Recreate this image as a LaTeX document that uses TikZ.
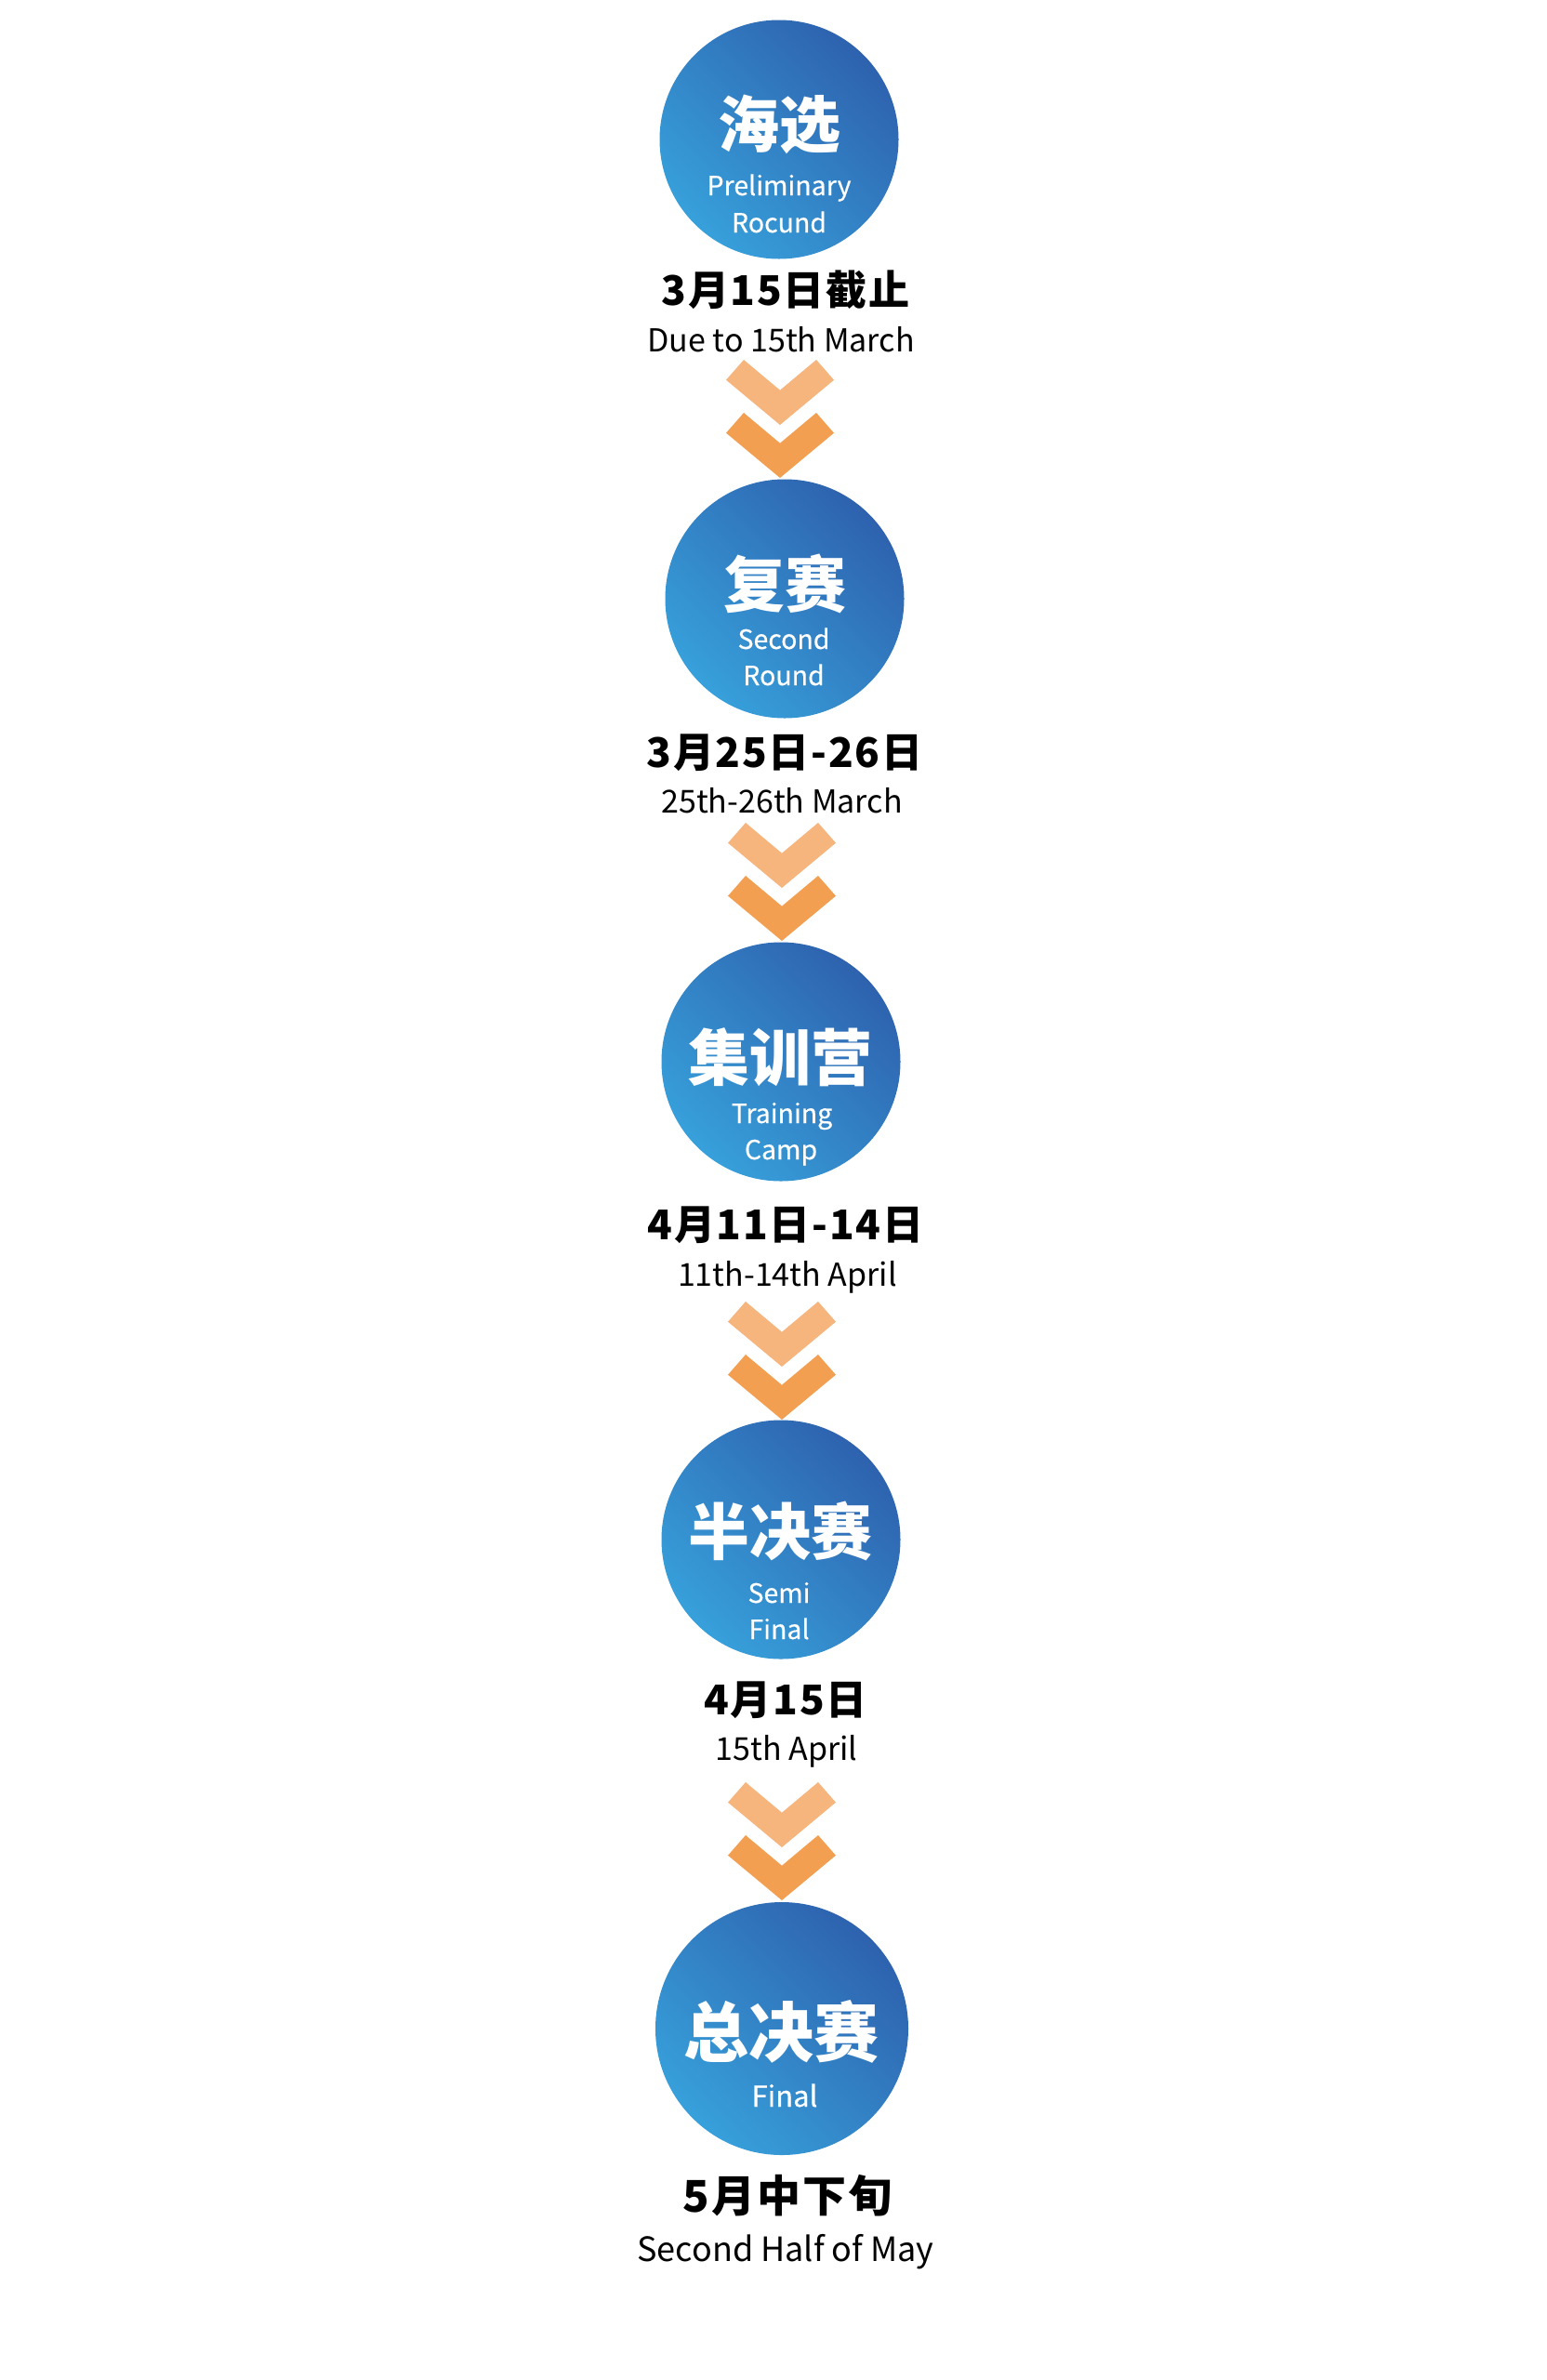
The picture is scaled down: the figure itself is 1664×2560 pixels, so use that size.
\documentclass[tikz,border=0pt]{standalone}
\usepackage{fontspec}
\setmainfont{Noto Sans CJK SC}
\newfontfamily\cjkmed{Noto Sans CJK SC}[FakeBold=0.4]
\newfontfamily\datefont{Noto Sans CJK SC}[LetterSpace=4]
\definecolor{blueD}{HTML}{2E62AE}
\definecolor{blueL}{HTML}{37A0DB}
\definecolor{chevL}{HTML}{F5B57D}
\definecolor{chevD}{HTML}{F39F52}
\tikzset{
  stage/.style={circle, minimum size=#1, inner sep=0pt, top color=blueD, bottom color=blueL, shading angle=-45},
  stage/.default=257pt,
  tit/.style={text=white, font=\fontsize{#1}{#1}\selectfont\bfseries, anchor=base, inner sep=0pt},
  tit/.default=66,
  sub/.style={text=white, font=\cjkmed\fontsize{#1}{#1}\selectfont, anchor=base, inner sep=0pt},
  sub/.default=28.5,
  dat/.style={text=black, font=\datefont\fontsize{#1}{#1}\selectfont\bfseries, anchor=base, inner sep=0pt},
  dat/.default=44,
  eng/.style={text=black, font=\fontsize{#1}{#1}\selectfont, anchor=base, inner sep=0pt},
  eng/.default=34,
  chev/.pic={
    \fill[chevL] (-58,21.7) -- (-39,0) -- (0,32.7) -- (39,0) -- (58,21.7) -- (0,70) -- cycle;
    \fill[chevD] (-58,78.7) -- (-39,57) -- (0,89.7) -- (39,57) -- (58,78.7) -- (0,127) -- cycle;
  }
}
\begin{document}
\begin{tikzpicture}[x=1pt,y=-1pt]
\fill[white] (0,0) rectangle (1664,2560);
\useasboundingbox (0,0) rectangle (1664,2560);

% stage 1
\node[stage] (s1) at (838,150) {};
\node[tit] (t1) at (838,158) {海选};
\node[sub] (u1a) at (838,210) {Preliminary};
\node[sub] (u1b) at (838,250) {Rocund};
\node[dat] (d1) at (845,328) {3月15日截止};
\node[eng] (e1) at (840,378) {Due to 15th March};
\pic (c1) at (839,387) {chev};

% stage 2
\node[stage] (s2) at (844,644) {};
\node[tit] (t2) at (844,653) {复赛};
\node[sub] (u2a) at (843,698) {Second};
\node[sub] (u2b) at (843,737) {Round};
\node[dat] (d2) at (844,825) {3月25日-26日};
\node[eng] (e2) at (841,874) {25th-26th March};
\pic (c2) at (841,885) {chev};

% stage 3
\node[stage] (s3) at (840,1142) {};
\node[tit] (t3) at (839,1162) {集训营};
\node[sub] (u3a) at (841,1208) {Training};
\node[sub] (u3b) at (840,1247) {Camp};
\node[dat] (d3) at (845,1333) {4月11日-14日};
\node[eng] (e3) at (847,1383) {11th-14th April};
\pic (c3) at (841,1400) {chev};

% stage 4
\node[stage] (s4) at (840,1656) {};
\node[tit] (t4) at (839,1672) {半决赛};
\node[sub] (u4a) at (838,1724) {Semi};
\node[sub] (u4b) at (838,1763) {Final};
\node[dat] (d4) at (845,1844) {4月15日};
\node[eng] (e4) at (846,1893) {15th April};
\pic (c4) at (841,1917) {chev};

% stage 5
\node[stage=272pt] (s5) at (841,2182) {};
\node[tit=70] (t5) at (840,2212) {总决赛};
\node[sub=31] (u5a) at (844,2266) {Final};
\node[dat=47] (d5) at (847,2379) {5月中下旬};
\node[eng=36] (e5) at (845,2432) {Second Half of May};
\end{tikzpicture}
\end{document}
